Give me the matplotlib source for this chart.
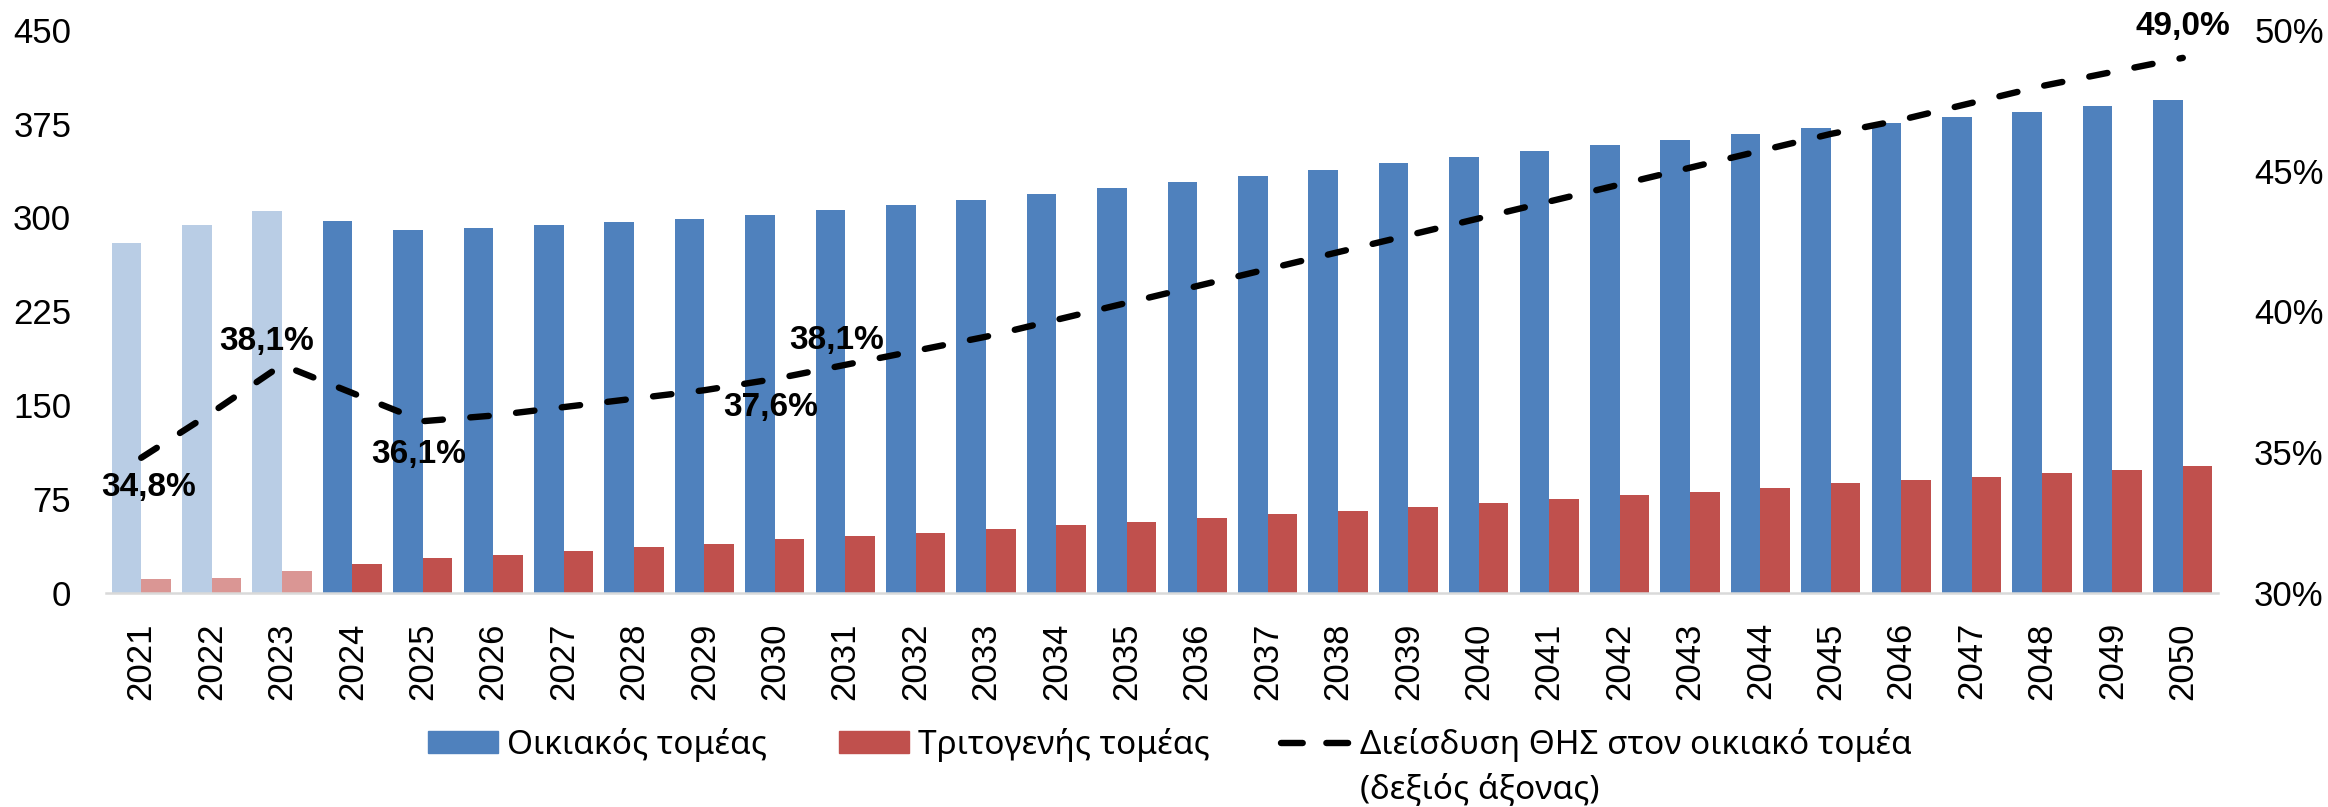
import numpy as np
import matplotlib.pyplot as plt
from matplotlib.patches import Patch
from matplotlib.lines import Line2D

plt.rcParams['font.family'] = ['Liberation Sans', 'DejaVu Sans']

# data
years = list(range(2021, 2051))
n_hist = 3  # 2021-2023 are drawn in lighter colours
household = [279.5, 294.0, 305.1, 297.2, 289.6, 291.5, 294.0, 296.5, 298.7, 301.6,
             305.7, 310.1, 314.2, 318.6, 323.4, 328.1, 333.2, 338.2, 343.3, 348.3,
             353.1, 357.5, 362.2, 367.0, 371.4, 375.8, 380.2, 384.3, 389.1, 393.5]
tertiary = [11.4, 12.0, 17.7, 23.1, 28.1, 30.3, 33.8, 36.6, 39.5, 43.3,
            45.5, 48.0, 50.8, 54.0, 56.8, 59.7, 62.8, 65.7, 68.8, 72.0,
            74.8, 78.0, 80.8, 84.0, 87.5, 90.0, 92.8, 95.7, 98.2, 101.1]
res_share = [34.8, 36.4, 38.1, 37.1, 36.1, 36.3, 36.6, 36.9, 37.2, 37.6,
             38.1, 38.6, 39.1, 39.7, 40.3, 40.9, 41.5, 42.1, 42.7, 43.3,
             43.9, 44.5, 45.1, 45.7, 46.3, 46.8, 47.4, 48.0, 48.5, 49.0]
labelled_years = [2021, 2023, 2025, 2030, 2031, 2050]

leg_labels = ['Οικιακός τομέας', 'Τριτογενής τομέας',
              'Διείσδυση ΘΗΣ στον οικιακό τομέα']
leg_extra = '(δεξιός άξονας)'

blue, blue_l = '#4F81BD', '#B9CDE5'
red, red_l = '#C0504D', '#DA9694'

x = np.arange(len(years))
w = 0.42

fig = plt.figure(figsize=(23.28, 8.07), dpi=100)
ax = fig.add_axes([106/2328, 1 - 593/807, (2218 - 106)/2328, (593 - 29.7)/807])
ax2 = ax.twinx()

cb = [blue_l if i < n_hist else blue for i in range(len(years))]
cr = [red_l if i < n_hist else red for i in range(len(years))]
ax.bar(x - w/2, household, w, color=cb, zorder=2)
ax.bar(x + w/2, tertiary, w, color=cr, zorder=2)

ax.set_xlim(-0.5, len(years) - 0.5)
ax.set_ylim(0, 450)
ax.set_yticks(np.arange(0, 451, 75))
ax.set_xticks(x)
ax.set_xticklabels(years, rotation=90)
ax.tick_params(axis='y', length=0, labelsize=25, pad=25)
ax.tick_params(axis='x', length=0, labelsize=25, pad=21)
for s in ['top', 'left', 'right']:
    ax.spines[s].set_visible(False)
ax.spines['bottom'].set_color('#D9D9D9')
ax.spines['bottom'].set_linewidth(1.8)

ax2.plot(x, res_share, color='black', lw=4.6, linestyle=(0, (2.9, 4.3)),
         dash_capstyle='round', zorder=3)
ax2.set_ylim(30, 50)
ax2.set_yticks([30, 35, 40, 45, 50])
ax2.set_yticklabels(['%d%%' % v for v in [30, 35, 40, 45, 50]])
ax2.tick_params(axis='y', length=0, labelsize=25, pad=26)
for s in ax2.spines.values():
    s.set_visible(False)

# label offsets in pixels from the point
offs = {2021: (7, -30), 2023: (-15, 23), 2025: (-4, -33),
        2030: (-4, -29), 2031: (-9, 24), 2050: (0, 31)}
for yr in labelled_years:
    i = years.index(yr)
    ax2.annotate(('%.1f%%' % res_share[i]).replace('.', ','), (x[i], res_share[i]),
                 xytext=offs[yr], textcoords='offset pixels', ha='center', va='center',
                 fontsize=24, fontweight='bold', zorder=4)

handles = [Patch(color=blue), Patch(color=red),
           Line2D([], [], color='black', lw=4.6, linestyle=(0, (3.4, 3.7)),
                  dash_capstyle='round')]
leg = fig.legend(handles, leg_labels, loc='center left', ncol=3,
                 bbox_to_anchor=(428/2328, 1 - 745/807), frameon=False,
                 borderpad=0, borderaxespad=0, handlelength=2.1, handleheight=0.64,
                 handletextpad=0.28, columnspacing=2.14,
                 prop={'family': 'Noto Sans', 'size': 24})

fig.canvas.draw()
bb = leg.get_texts()[2].get_window_extent()
fig.text(bb.x0 / fig.bbox.width, 1 - 790/807, leg_extra, ha='left', va='center',
         fontsize=24, family='Noto Sans')

fig.savefig('out.png', dpi=100)
